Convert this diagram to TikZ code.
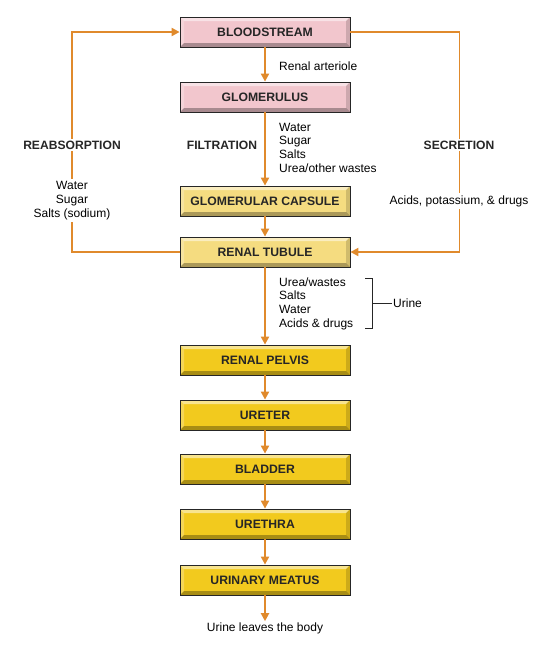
\documentclass[tikz,border=0pt]{standalone}
\usepackage{fontspec}
\setmainfont{Liberation Sans}
\usetikzlibrary{arrows.meta}
\definecolor{pinkbox}{HTML}{F2C6CD}
\definecolor{palebox}{HTML}{F5DC80}
\definecolor{goldbox}{HTML}{F2CA1E}
\definecolor{arroworange}{HTML}{E08A2C}
\begin{document}
\begin{tikzpicture}[x=1pt,y=-1pt,
           bevel_style/.style={path picture={
             \fill[white,opacity=0.5] (path picture bounding box.north west) -- (path picture bounding box.north east)
               -- ([xshift=-4pt,yshift=-4pt]path picture bounding box.north east) -- ([xshift=4pt,yshift=-4pt]path picture bounding box.north west) -- cycle;
             \fill[white,opacity=0.25] (path picture bounding box.north west) -- ([xshift=4pt,yshift=-4pt]path picture bounding box.north west)
               -- ([xshift=4pt,yshift=4pt]path picture bounding box.south west) -- (path picture bounding box.south west) -- cycle;
             \fill[black,opacity=0.15] (path picture bounding box.north east) -- ([xshift=-4pt,yshift=-4pt]path picture bounding box.north east)
               -- ([xshift=-4pt,yshift=4pt]path picture bounding box.south east) -- (path picture bounding box.south east) -- cycle;
             \fill[black,opacity=0.3] (path picture bounding box.south west) -- (path picture bounding box.south east)
               -- ([xshift=-4pt,yshift=4pt]path picture bounding box.south east) -- ([xshift=4pt,yshift=4pt]path picture bounding box.south west) -- cycle;}},
           box_style/.style={draw=black!85,line width=0.8pt,minimum width=170pt,minimum height=30pt,inner sep=0pt,
             font=\fontsize{12.2}{14}\selectfont\bfseries,text=black!85,bevel_style},
           box_pink/.style={box_style,fill=pinkbox},
           box_pale/.style={box_style,fill=palebox},
           box_gold/.style={box_style,fill=goldbox},
           label_style/.style={font=\fontsize{12}{13.7}\selectfont,inner sep=1pt},
           head_style/.style={font=\fontsize{12.1}{14}\selectfont\bfseries,text=black!85,fill=white,inner sep=2pt},
           edge_style/.style={draw=arroworange,line width=1.9pt,-{Triangle[length=8pt,width=8pt]}}]
            \useasboundingbox (0,0) rectangle (541,648);
            \node[box_pink] (blood) at (265, 32)  {BLOODSTREAM};
            \node[box_pink] (glom) at (265, 97)  {GLOMERULUS};
            \node[box_pale] (capsule) at (265, 201)  {GLOMERULAR CAPSULE};
            \node[box_pale] (tubule) at (265, 252)  {RENAL TUBULE};
            \node[box_gold] (pelvis) at (265, 360)  {RENAL PELVIS};
            \node[box_gold] (ureter) at (265, 415)  {URETER};
            \node[box_gold] (bladder) at (265, 469)  {BLADDER};
            \node[box_gold] (urethra) at (265, 524)  {URETHRA};
            \node[box_gold] (meatus) at (265, 580)  {URINARY MEATUS};
            \node[label_style] (leaves) at (265, 628)  {Urine leaves the body};
            \draw[edge_style]  (blood) -- (glom);
            \draw[edge_style]  (glom) -- (capsule);
            \draw[edge_style]  (capsule) -- (tubule);
            \draw[edge_style]  (tubule) -- (pelvis);
            \draw[edge_style]  (pelvis) -- (ureter);
            \draw[edge_style]  (ureter) -- (bladder);
            \draw[edge_style]  (bladder) -- (urethra);
            \draw[edge_style]  (urethra) -- (meatus);
            \draw[edge_style]  (meatus) -- (leaves);
            \draw[edge_style]  (tubule.west) -- ++(-108,0) |- (blood.west);
            \draw[edge_style]  (blood.east) -- ++(109.1,0) |- (tubule.east);
            % labels
            \node[label_style,anchor=west] (arteriole) at (278, 66)  {Renal arteriole};
            \node[label_style,anchor=west,align=left] (filtrate) at (278, 147.5)  {Water\\Sugar\\Salts\\Urea/other wastes};
            \node[label_style,anchor=west,align=left] (urinelist) at (278, 303.5)  {Urea/wastes\\Salts\\Water\\Acids \& drugs};
            \node[head_style] (filtration) at (222, 145)  {FILTRATION};
            \node[head_style] (reabsorption) at (72, 145)  {REABSORPTION};
            \node[label_style,fill=white,align=center,inner sep=2pt] (reabs) at (72, 200.5)  {Water\\Sugar\\Salts (sodium)};
            \node[head_style] (secretion) at (459, 145)  {SECRETION};
            \node[label_style,fill=white,inner sep=2pt] (secr) at (459, 201)  {Acids, potassium, \& drugs};
            \node[label_style,anchor=west] (urine) at (392, 303)  {Urine};
            \draw[black!85,line width=0.8pt] (365, 278) -- (372, 278) -- (372, 328) -- (365, 328);
            \draw[black!85,line width=0.8pt] (urine.west) -- (372, 303);
        \end{tikzpicture}
\end{document}
